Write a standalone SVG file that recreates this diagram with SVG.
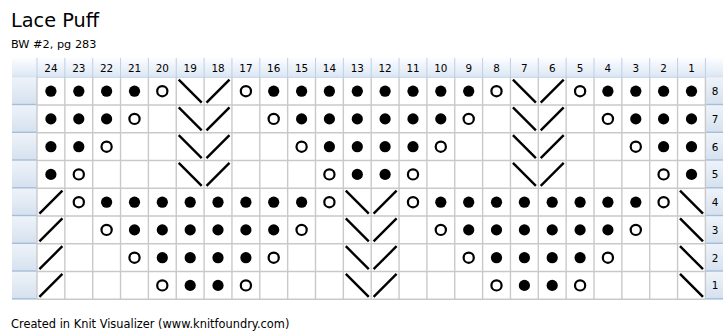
<svg xmlns="http://www.w3.org/2000/svg" xmlns:xlink="http://www.w3.org/1999/xlink" width="725" height="335" viewBox="0 0 725 335">
<style>
text{font-family:"DejaVu Sans","Liberation Sans",sans-serif;fill:#000}
.num{font-size:10.4px;text-anchor:middle}
.grid line{stroke:#c9c9c9;stroke-width:1.4}
.hsep{stroke:#bcd0e6;stroke-width:1}
.rh{fill:url(#rowg)}
.rb{stroke:#a6bdd9;stroke-width:1.4}
.o{fill:none;stroke:#000;stroke-width:2.2}
.s{stroke:#000;stroke-width:2.4;stroke-linecap:butt}
</style>
<defs>
<linearGradient id="hdrg" x1="0" y1="0" x2="0" y2="1"><stop offset="0" stop-color="#fcfdff"/><stop offset="1" stop-color="#dbe6f3"/></linearGradient>
<linearGradient id="rowg" x1="0" y1="0" x2="0" y2="1"><stop offset="0" stop-color="#eef3f9"/><stop offset="1" stop-color="#d5e1ef"/></linearGradient>
<circle id="d" r="5.6" fill="#000"/>
<circle id="o" r="5.1" class="o"/>
<line id="b" x1="-11.5" y1="-11.5" x2="11.5" y2="11.5" class="s"/>
<line id="f" x1="-11.5" y1="11.5" x2="11.5" y2="-11.5" class="s"/>
</defs>
<rect width="725" height="335" fill="#fff"/>
<text x="11" y="26.5" font-size="19.3">Lace Puff</text>
<text x="11" y="48" font-size="11.3">BW #2, pg 283</text>
<text x="11" y="327.5" font-size="11.4">Created in Knit Visualizer (www.knitfoundry.com)</text>

<g id="header">
<rect x="12" y="58" width="711" height="19.3" fill="url(#hdrg)"/>
<line x1="12" y1="77.3" x2="723" y2="77.3" stroke="#c3d4e8" stroke-width="1"/>
<g class="hsep">
<line x1="37" y1="58" x2="37" y2="77.3"/><line x1="64.85" y1="58" x2="64.85" y2="77.3"/><line x1="92.7" y1="58" x2="92.7" y2="77.3"/><line x1="120.55" y1="58" x2="120.55" y2="77.3"/><line x1="148.4" y1="58" x2="148.4" y2="77.3"/><line x1="176.25" y1="58" x2="176.25" y2="77.3"/><line x1="204.1" y1="58" x2="204.1" y2="77.3"/><line x1="231.95" y1="58" x2="231.95" y2="77.3"/><line x1="259.8" y1="58" x2="259.8" y2="77.3"/><line x1="287.65" y1="58" x2="287.65" y2="77.3"/><line x1="315.5" y1="58" x2="315.5" y2="77.3"/><line x1="343.35" y1="58" x2="343.35" y2="77.3"/><line x1="371.2" y1="58" x2="371.2" y2="77.3"/><line x1="399.05" y1="58" x2="399.05" y2="77.3"/><line x1="426.9" y1="58" x2="426.9" y2="77.3"/><line x1="454.75" y1="58" x2="454.75" y2="77.3"/><line x1="482.6" y1="58" x2="482.6" y2="77.3"/><line x1="510.45" y1="58" x2="510.45" y2="77.3"/><line x1="538.3" y1="58" x2="538.3" y2="77.3"/><line x1="566.15" y1="58" x2="566.15" y2="77.3"/><line x1="594" y1="58" x2="594" y2="77.3"/><line x1="621.85" y1="58" x2="621.85" y2="77.3"/><line x1="649.7" y1="58" x2="649.7" y2="77.3"/><line x1="677.55" y1="58" x2="677.55" y2="77.3"/><line x1="705.4" y1="58" x2="705.4" y2="77.3"/>
</g>
<g class="num">
<text x="50.9" y="71.8">24</text><text x="78.8" y="71.8">23</text><text x="106.6" y="71.8">22</text><text x="134.5" y="71.8">21</text><text x="162.3" y="71.8">20</text><text x="190.2" y="71.8">19</text><text x="218" y="71.8">18</text><text x="245.9" y="71.8">17</text><text x="273.7" y="71.8">16</text><text x="301.6" y="71.8">15</text><text x="329.4" y="71.8">14</text><text x="357.3" y="71.8">13</text><text x="385.1" y="71.8">12</text><text x="413" y="71.8">11</text><text x="440.8" y="71.8">10</text><text x="468.7" y="71.8">9</text><text x="496.5" y="71.8">8</text><text x="524.4" y="71.8">7</text><text x="552.2" y="71.8">6</text><text x="580.1" y="71.8">5</text><text x="607.9" y="71.8">4</text><text x="635.8" y="71.8">3</text><text x="663.6" y="71.8">2</text><text x="691.5" y="71.8">1</text>
</g>
</g>

<g id="row-headers">
<rect class="rh" x="12" y="77.3" width="25" height="27.75"/><rect class="rh" x="12" y="105.05" width="25" height="27.75"/><rect class="rh" x="12" y="132.8" width="25" height="27.75"/><rect class="rh" x="12" y="160.55" width="25" height="27.75"/><rect class="rh" x="12" y="188.3" width="25" height="27.75"/><rect class="rh" x="12" y="216.05" width="25" height="27.75"/><rect class="rh" x="12" y="243.8" width="25" height="27.75"/><rect class="rh" x="12" y="271.55" width="25" height="27.75"/>
<rect class="rh" x="705.4" y="77.3" width="17.6" height="27.75"/><rect class="rh" x="705.4" y="105.05" width="17.6" height="27.75"/><rect class="rh" x="705.4" y="132.8" width="17.6" height="27.75"/><rect class="rh" x="705.4" y="160.55" width="17.6" height="27.75"/><rect class="rh" x="705.4" y="188.3" width="17.6" height="27.75"/><rect class="rh" x="705.4" y="216.05" width="17.6" height="27.75"/><rect class="rh" x="705.4" y="243.8" width="17.6" height="27.75"/><rect class="rh" x="705.4" y="271.55" width="17.6" height="27.75"/>
<g class="rb">
<line x1="12" y1="104.5" x2="37" y2="104.5"/><line x1="12" y1="132.3" x2="37" y2="132.3"/><line x1="12" y1="160" x2="37" y2="160"/><line x1="12" y1="187.8" x2="37" y2="187.8"/><line x1="12" y1="215.5" x2="37" y2="215.5"/><line x1="12" y1="243.3" x2="37" y2="243.3"/><line x1="12" y1="271" x2="37" y2="271"/><line x1="12" y1="298.8" x2="37" y2="298.8"/>
<line x1="705.4" y1="104.5" x2="723" y2="104.5"/><line x1="705.4" y1="132.3" x2="723" y2="132.3"/><line x1="705.4" y1="160" x2="723" y2="160"/><line x1="705.4" y1="187.8" x2="723" y2="187.8"/><line x1="705.4" y1="215.5" x2="723" y2="215.5"/><line x1="705.4" y1="243.3" x2="723" y2="243.3"/><line x1="705.4" y1="271" x2="723" y2="271"/><line x1="705.4" y1="298.8" x2="723" y2="298.8"/>
</g>
<g class="num">
<text x="715" y="95">8</text><text x="715" y="122.7">7</text><text x="715" y="150.5">6</text><text x="715" y="178.2">5</text><text x="715" y="206">4</text><text x="715" y="233.7">3</text><text x="715" y="261.5">2</text><text x="715" y="289.2">1</text>
</g>
</g>

<g id="grid" class="grid">
<line x1="37" y1="77.3" x2="37" y2="299.3"/><line x1="64.85" y1="77.3" x2="64.85" y2="299.3"/><line x1="92.7" y1="77.3" x2="92.7" y2="299.3"/><line x1="120.55" y1="77.3" x2="120.55" y2="299.3"/><line x1="148.4" y1="77.3" x2="148.4" y2="299.3"/><line x1="176.25" y1="77.3" x2="176.25" y2="299.3"/><line x1="204.1" y1="77.3" x2="204.1" y2="299.3"/><line x1="231.95" y1="77.3" x2="231.95" y2="299.3"/><line x1="259.8" y1="77.3" x2="259.8" y2="299.3"/><line x1="287.65" y1="77.3" x2="287.65" y2="299.3"/><line x1="315.5" y1="77.3" x2="315.5" y2="299.3"/><line x1="343.35" y1="77.3" x2="343.35" y2="299.3"/><line x1="371.2" y1="77.3" x2="371.2" y2="299.3"/><line x1="399.05" y1="77.3" x2="399.05" y2="299.3"/><line x1="426.9" y1="77.3" x2="426.9" y2="299.3"/><line x1="454.75" y1="77.3" x2="454.75" y2="299.3"/><line x1="482.6" y1="77.3" x2="482.6" y2="299.3"/><line x1="510.45" y1="77.3" x2="510.45" y2="299.3"/><line x1="538.3" y1="77.3" x2="538.3" y2="299.3"/><line x1="566.15" y1="77.3" x2="566.15" y2="299.3"/><line x1="594" y1="77.3" x2="594" y2="299.3"/><line x1="621.85" y1="77.3" x2="621.85" y2="299.3"/><line x1="649.7" y1="77.3" x2="649.7" y2="299.3"/><line x1="677.55" y1="77.3" x2="677.55" y2="299.3"/><line x1="705.4" y1="77.3" x2="705.4" y2="299.3"/>
<line x1="37" y1="105.05" x2="705.4" y2="105.05"/><line x1="37" y1="132.8" x2="705.4" y2="132.8"/><line x1="37" y1="160.55" x2="705.4" y2="160.55"/><line x1="37" y1="188.3" x2="705.4" y2="188.3"/><line x1="37" y1="216.05" x2="705.4" y2="216.05"/><line x1="37" y1="243.8" x2="705.4" y2="243.8"/><line x1="37" y1="271.55" x2="705.4" y2="271.55"/><line x1="37" y1="299.3" x2="705.4" y2="299.3"/>
</g>

<g id="row8">
<use href="#d" x="50.9" y="91.2"/><use href="#d" x="78.8" y="91.2"/><use href="#d" x="106.6" y="91.2"/><use href="#d" x="134.5" y="91.2"/><use href="#o" x="162.3" y="91.2"/><use href="#b" x="190.2" y="91.2"/><use href="#f" x="218" y="91.2"/><use href="#o" x="245.9" y="91.2"/><use href="#d" x="273.7" y="91.2"/><use href="#d" x="301.6" y="91.2"/><use href="#d" x="329.4" y="91.2"/><use href="#d" x="357.3" y="91.2"/><use href="#d" x="385.1" y="91.2"/><use href="#d" x="413" y="91.2"/><use href="#d" x="440.8" y="91.2"/><use href="#d" x="468.7" y="91.2"/><use href="#o" x="496.5" y="91.2"/><use href="#b" x="524.4" y="91.2"/><use href="#f" x="552.2" y="91.2"/><use href="#o" x="580.1" y="91.2"/><use href="#d" x="607.9" y="91.2"/><use href="#d" x="635.8" y="91.2"/><use href="#d" x="663.6" y="91.2"/><use href="#d" x="691.5" y="91.2"/>
</g>
<g id="row7">
<use href="#d" x="50.9" y="118.9"/><use href="#d" x="78.8" y="118.9"/><use href="#d" x="106.6" y="118.9"/><use href="#o" x="134.5" y="118.9"/><use href="#b" x="190.2" y="118.9"/><use href="#f" x="218" y="118.9"/><use href="#o" x="273.7" y="118.9"/><use href="#d" x="301.6" y="118.9"/><use href="#d" x="329.4" y="118.9"/><use href="#d" x="357.3" y="118.9"/><use href="#d" x="385.1" y="118.9"/><use href="#d" x="413" y="118.9"/><use href="#d" x="440.8" y="118.9"/><use href="#o" x="468.7" y="118.9"/><use href="#b" x="524.4" y="118.9"/><use href="#f" x="552.2" y="118.9"/><use href="#o" x="607.9" y="118.9"/><use href="#d" x="635.8" y="118.9"/><use href="#d" x="663.6" y="118.9"/><use href="#d" x="691.5" y="118.9"/>
</g>
<g id="row6">
<use href="#d" x="50.9" y="146.7"/><use href="#d" x="78.8" y="146.7"/><use href="#o" x="106.6" y="146.7"/><use href="#b" x="190.2" y="146.7"/><use href="#f" x="218" y="146.7"/><use href="#o" x="301.6" y="146.7"/><use href="#d" x="329.4" y="146.7"/><use href="#d" x="357.3" y="146.7"/><use href="#d" x="385.1" y="146.7"/><use href="#d" x="413" y="146.7"/><use href="#o" x="440.8" y="146.7"/><use href="#b" x="524.4" y="146.7"/><use href="#f" x="552.2" y="146.7"/><use href="#o" x="635.8" y="146.7"/><use href="#d" x="663.6" y="146.7"/><use href="#d" x="691.5" y="146.7"/>
</g>
<g id="row5">
<use href="#d" x="50.9" y="174.4"/><use href="#o" x="78.8" y="174.4"/><use href="#b" x="190.2" y="174.4"/><use href="#f" x="218" y="174.4"/><use href="#o" x="329.4" y="174.4"/><use href="#d" x="357.3" y="174.4"/><use href="#d" x="385.1" y="174.4"/><use href="#o" x="413" y="174.4"/><use href="#b" x="524.4" y="174.4"/><use href="#f" x="552.2" y="174.4"/><use href="#o" x="663.6" y="174.4"/><use href="#d" x="691.5" y="174.4"/>
</g>
<g id="row4">
<use href="#f" x="50.9" y="202.2"/><use href="#o" x="78.8" y="202.2"/><use href="#d" x="106.6" y="202.2"/><use href="#d" x="134.5" y="202.2"/><use href="#d" x="162.3" y="202.2"/><use href="#d" x="190.2" y="202.2"/><use href="#d" x="218" y="202.2"/><use href="#d" x="245.9" y="202.2"/><use href="#d" x="273.7" y="202.2"/><use href="#d" x="301.6" y="202.2"/><use href="#o" x="329.4" y="202.2"/><use href="#b" x="357.3" y="202.2"/><use href="#f" x="385.1" y="202.2"/><use href="#o" x="413" y="202.2"/><use href="#d" x="440.8" y="202.2"/><use href="#d" x="468.7" y="202.2"/><use href="#d" x="496.5" y="202.2"/><use href="#d" x="524.4" y="202.2"/><use href="#d" x="552.2" y="202.2"/><use href="#d" x="580.1" y="202.2"/><use href="#d" x="607.9" y="202.2"/><use href="#d" x="635.8" y="202.2"/><use href="#o" x="663.6" y="202.2"/><use href="#b" x="691.5" y="202.2"/>
</g>
<g id="row3">
<use href="#f" x="50.9" y="229.9"/><use href="#o" x="106.6" y="229.9"/><use href="#d" x="134.5" y="229.9"/><use href="#d" x="162.3" y="229.9"/><use href="#d" x="190.2" y="229.9"/><use href="#d" x="218" y="229.9"/><use href="#d" x="245.9" y="229.9"/><use href="#d" x="273.7" y="229.9"/><use href="#o" x="301.6" y="229.9"/><use href="#b" x="357.3" y="229.9"/><use href="#f" x="385.1" y="229.9"/><use href="#o" x="440.8" y="229.9"/><use href="#d" x="468.7" y="229.9"/><use href="#d" x="496.5" y="229.9"/><use href="#d" x="524.4" y="229.9"/><use href="#d" x="552.2" y="229.9"/><use href="#d" x="580.1" y="229.9"/><use href="#d" x="607.9" y="229.9"/><use href="#o" x="635.8" y="229.9"/><use href="#b" x="691.5" y="229.9"/>
</g>
<g id="row2">
<use href="#f" x="50.9" y="257.7"/><use href="#o" x="134.5" y="257.7"/><use href="#d" x="162.3" y="257.7"/><use href="#d" x="190.2" y="257.7"/><use href="#d" x="218" y="257.7"/><use href="#d" x="245.9" y="257.7"/><use href="#o" x="273.7" y="257.7"/><use href="#b" x="357.3" y="257.7"/><use href="#f" x="385.1" y="257.7"/><use href="#o" x="468.7" y="257.7"/><use href="#d" x="496.5" y="257.7"/><use href="#d" x="524.4" y="257.7"/><use href="#d" x="552.2" y="257.7"/><use href="#d" x="580.1" y="257.7"/><use href="#o" x="607.9" y="257.7"/><use href="#b" x="691.5" y="257.7"/>
</g>
<g id="row1">
<use href="#f" x="50.9" y="285.4"/><use href="#o" x="162.3" y="285.4"/><use href="#d" x="190.2" y="285.4"/><use href="#d" x="218" y="285.4"/><use href="#o" x="245.9" y="285.4"/><use href="#b" x="357.3" y="285.4"/><use href="#f" x="385.1" y="285.4"/><use href="#o" x="496.5" y="285.4"/><use href="#d" x="524.4" y="285.4"/><use href="#d" x="552.2" y="285.4"/><use href="#o" x="580.1" y="285.4"/><use href="#b" x="691.5" y="285.4"/>
</g>
</svg>
